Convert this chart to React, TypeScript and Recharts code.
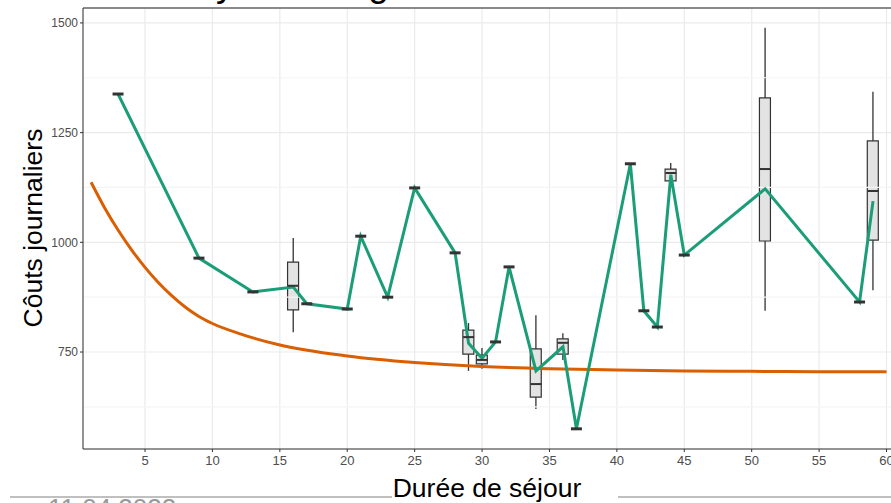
import { Bar, CartesianGrid, ComposedChart, Line, ReferenceLine, Scatter, XAxis, YAxis } from "recharts"

// durée de séjour where a mean cost is drawn
const stayDays = [3, 9, 13, 16, 17, 20, 21, 23, 25, 28, 29, 30, 31, 32, 34, 36, 37, 41, 42, 43, 44, 45, 51, 58, 59]
const meanCost = [1338, 964, 887, 898, 860, 848, 1014, 875, 1124, 976, 770, 736, 773, 944, 707, 762, 575, 1179, 844, 807, 1154, 971, 1122, 864, 1094]

// boxplots (only stays with several cases)
const boxDays = [16, 29, 30, 34, 36, 44, 51, 59]
const boxMin = [795, 707, 712, 620, 732, 1140, 844, 891]
const boxQ1 = [846, 745, 723, 647, 745, 1140, 1003, 1005]
const boxMedian = [901, 784, 732, 677, 771, 1158, 1167, 1117]
const boxQ3 = [955, 800, 743, 757, 780, 1167, 1329, 1231]
const boxMax = [1010, 816, 759, 834, 793, 1181, 1489, 1343]

// fitted curve
const fitDays = [1, 2, 3, 4, 5, 6, 7, 8, 9, 10, 12, 15, 20, 25, 30, 35, 40, 45, 50, 55, 60]
const fitCost = [1137, 1079, 1028, 983, 943, 908, 878, 852, 831, 815, 792, 766, 741, 726, 717, 712, 709, 707, 706, 705, 705]

const xTicks = [5, 10, 15, 20, 25, 30, 35, 40, 45, 50, 55, 60]
const yTicks = [750, 1000, 1250, 1500]
const yMinor = [625, 875, 1125, 1375]

const X_DOMAIN: [number, number] = [0.4, 61]
const Y_DOMAIN: [number, number] = [529, 1534]

const GREEN = "#1b9e77"
const ORANGE = "#d95f02"
const FONT = "'Liberation Sans', Arial, sans-serif"

const rows = stayDays.map((x, i) => {
  const b = boxDays.indexOf(x)
  return {
    x,
    mean: meanCost[i],
    med: b >= 0 ? boxMedian[b] : meanCost[i],
    single: b < 0,
    box: b >= 0 ? [boxQ1[b], boxQ3[b]] : undefined,
    whisker: b >= 0 ? [boxMin[b], boxMax[b]] : undefined,
  }
})

const fitRows = fitDays.map((x, i) => ({ x, fit: fitCost[i] }))

function MedianDash(props: any) {
  const { cx, cy, payload } = props
  if (cx == null || cy == null) return <g />
  return (
    <line
      x1={cx - 5.5}
      x2={cx + 5.5}
      y1={cy}
      y2={cy}
      stroke="#333"
      strokeWidth={payload.single ? 3 : 2}
    />
  )
}

export default function App() {
  return (
    <div style={{ position: "absolute", left: 0, top: 0, width: 891, height: 503, overflow: "hidden", background: "#fff" }}>
      <ComposedChart width={900} height={503} data={rows} margin={{ top: 8, right: 0, bottom: 24, left: 0 }}>
        <CartesianGrid stroke="#ebebeb" strokeWidth={1.2} />
        {yMinor.map((v) => (
          <ReferenceLine key={v} y={v} stroke="#f4f4f4" strokeWidth={1.2} />
        ))}
        <ReferenceLine y={Y_DOMAIN[1]} stroke="#666" strokeWidth={1.5} />
        <XAxis
          dataKey="x"
          type="number"
          domain={X_DOMAIN}
          allowDataOverflow
          ticks={xTicks}
          height={30}
          tickSize={3}
          tickMargin={4}
          stroke="#333"
          tick={{ fill: "#4d4d4d", fontSize: 13, fontFamily: FONT }}
        />
        <XAxis xAxisId="w" dataKey="x" type="number" domain={X_DOMAIN} allowDataOverflow hide />
        <YAxis
          type="number"
          domain={Y_DOMAIN}
          allowDataOverflow
          ticks={yTicks}
          width={83}
          tickSize={3}
          stroke="#333"
          tick={{ fill: "#4d4d4d", fontSize: 12, fontFamily: FONT }}
        />
        <Bar xAxisId="w" dataKey="whisker" barSize={1.3} fill="#333" isAnimationActive={false} />
        <Bar dataKey="box" barSize={11} fill="#e3e3e3" stroke="#333" strokeWidth={1.2} isAnimationActive={false} />
        <Scatter data={rows} dataKey="med" shape={<MedianDash />} isAnimationActive={false} />
        <Line data={fitRows} dataKey="fit" type="monotone" stroke={ORANGE} strokeWidth={3} dot={false} isAnimationActive={false} />
        <Line dataKey="mean" type="linear" stroke={GREEN} strokeWidth={3} dot={false} isAnimationActive={false} />
      </ComposedChart>
      <svg width={891} height={503} style={{ position: "absolute", left: 0, top: 0, pointerEvents: "none" }} fontFamily={FONT}>
        <text x={142} y={-4.5} fontSize={37} fill="#000">
          Analyse de régression
        </text>
        <text x={42} y={228} fontSize={26.5} fill="#000" textAnchor="middle" transform="rotate(-90, 42, 228)">
          Côuts journaliers
        </text>
        <line x1={10} x2={392} y1={497} y2={497} stroke="#808080" strokeWidth={1} />
        <line x1={618} x2={891} y1={497} y2={497} stroke="#808080" strokeWidth={1} />
        <rect x={392} y={476} width={226} height={27} fill="#fff" />
        <text x={487} y={497} fontSize={26.5} fill="#000" textAnchor="middle">
          Durée de séjour
        </text>
        <text x={48} y={517} fontSize={26} fill="#999">
          11.04.2022
        </text>
      </svg>
    </div>
  )
}
